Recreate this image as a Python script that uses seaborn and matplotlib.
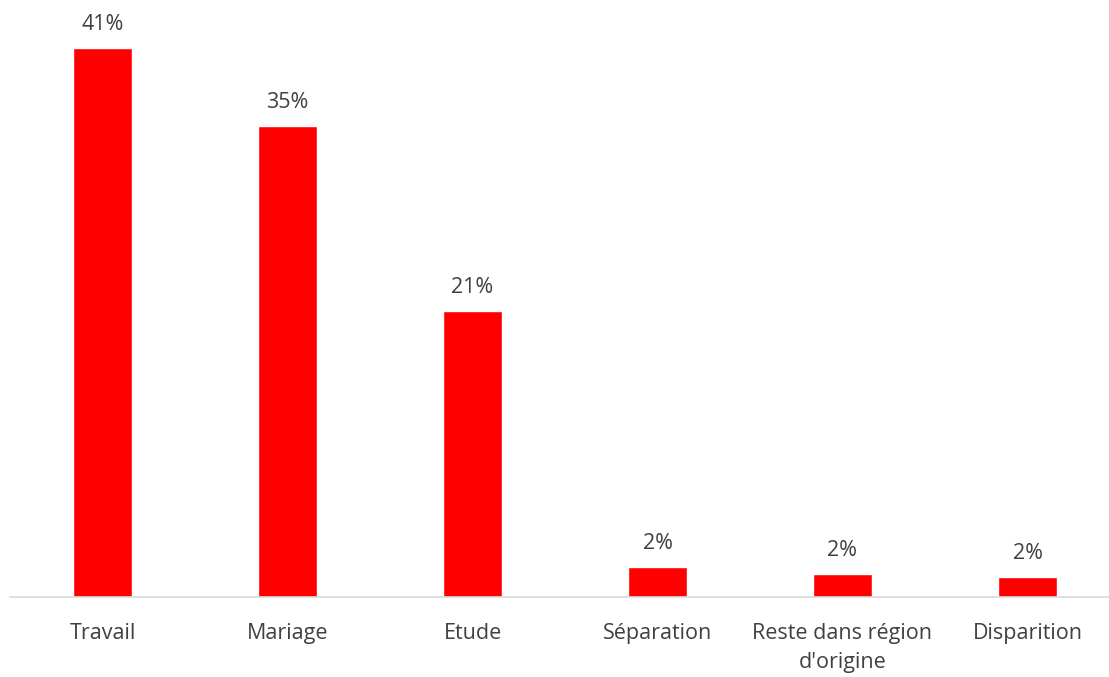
import matplotlib
matplotlib.use("Agg")
import matplotlib.pyplot as plt
import seaborn as sns
import pandas as pd

CATEGORIES = ['Travail', 'Mariage', 'Etude', 'Séparation',
              'Reste dans région\nd\'origine', 'Disparition']
VALUES = [41.0, 35.2, 21.4, 2.25, 1.7, 1.5]
LABELS = ['41%', '35%', '21%', '2%', '2%', '2%']

BAR_COLOR = '#ff0000'
TEXT_COLOR = '#404040'

sns.set_theme(style='white')
plt.rcParams['font.family'] = ['Open Sans', 'DejaVu Sans']

df = pd.DataFrame({'cat': CATEGORIES, 'val': VALUES})

W, H = 1109, 677
fig = plt.figure(figsize=(W / 100, H / 100), dpi=100)
ax = fig.add_axes([10 / W, 80 / H, 1110 / W, 574 / H])

sns.barplot(data=df, x='cat', y='val', color=BAR_COLOR, width=0.314,
            saturation=1, ax=ax)

for i, (v, lab) in enumerate(zip(VALUES, LABELS)):
    ax.annotate(lab, (i, v), xytext=(0, 17), textcoords='offset points',
                ha='center', va='center', fontsize=15.5, color=TEXT_COLOR)

ax.set_xlim(-0.5, 5.5)
ax.set_ylim(0, 42.9)
ax.set_xlabel('')
ax.set_ylabel('')
ax.set_yticks([])
for s in ['top', 'right', 'left']:
    ax.spines[s].set_visible(False)
ax.spines['bottom'].set_color('#d9d9d9')
ax.spines['bottom'].set_linewidth(1.2)
ax.tick_params(axis='x', length=0, pad=19, labelsize=15.5, labelcolor=TEXT_COLOR)
for t in ax.get_xticklabels():
    t.set_linespacing(1.45)
    t.set_va('top')

fig.savefig('out.png', dpi=100)
